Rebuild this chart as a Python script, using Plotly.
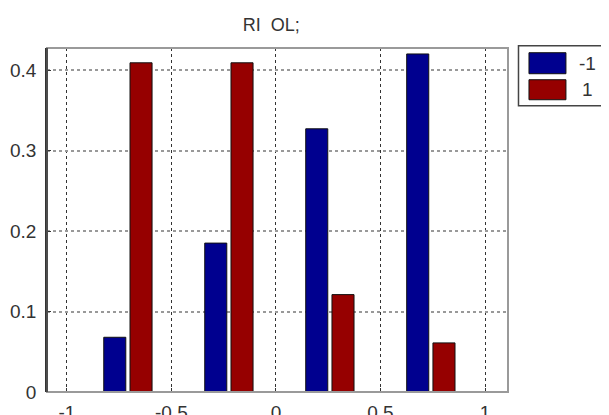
import plotly.graph_objects as go

# Data
x_centers = [-0.708, -0.225, 0.258, 0.741]
series_names = ["-1", "1"]
vals_neg1 = [0.068, 0.185, 0.327, 0.420]
vals_pos1 = [0.409, 0.409, 0.121, 0.061]
x_ticks = [-1, -0.5, 0, 0.5, 1]
x_tick_labels = ["-1", "-0.5", "0", "0.5", "1"]
y_ticks = [0, 0.1, 0.2, 0.3, 0.4]
y_tick_labels = ["0", "0.1", "0.2", "0.3", "0.4"]
title_text = "RI  OL;"

BLUE = "#00008F"
RED = "#960000"
FONT = "Liberation Sans, Arial, sans-serif"
TXT = "#333333"

# The page body has an 8px default margin; size the figure to fill the rest.
OFF = 8
W, H = 609 - OFF, 415 - OFF
# plot area in page pixels: x 46.6..508, y 48.3..392
ml, mr, mt, mb = 46.6 - OFF, 609 - 508, 48.3 - OFF, 415 - 392

fig = go.Figure()
fig.add_trace(go.Bar(x=x_centers, y=vals_neg1, name=series_names[0],
                     marker=dict(color=BLUE, line=dict(color="#111", width=1)),
                     showlegend=False))
fig.add_trace(go.Bar(x=x_centers, y=vals_pos1, name=series_names[1],
                     marker=dict(color=RED, line=dict(color="#111", width=1)),
                     showlegend=False))

fig.update_layout(
    width=W, height=H,
    margin=dict(l=ml, r=mr, t=mt, b=mb, pad=0, autoexpand=False),
    paper_bgcolor="white", plot_bgcolor="white",
    barmode="group", bargap=0.48, bargroupgap=0.16,
    font=dict(family=FONT, size=19, color=TXT),
    title=dict(text=title_text, x=(271 - 46.6) / (508 - 46.6), xref="paper",
               xanchor="center", y=1 - (24.5 - OFF) / H, yanchor="middle",
               font=dict(size=18, color=TXT)),
    xaxis=dict(range=[-1.095, 1.11], tickmode="array", tickvals=x_ticks,
               ticktext=x_tick_labels, showgrid=True, gridcolor="#333",
               griddash="dot", gridwidth=1, zeroline=False, showline=False,
               ticks="inside", ticklen=4, tickcolor="#333",
               ticklabelstandoff=7, automargin=False),
    yaxis=dict(range=[0, 0.4274], tickmode="array", tickvals=y_ticks,
               ticktext=y_tick_labels, showgrid=True, gridcolor="#999",
               griddash="dot", gridwidth=1.5, zeroline=False, showline=True,
               linecolor="#333", linewidth=1.5, ticks="inside", ticklen=4,
               tickcolor="#333", ticklabelstandoff=5, automargin=False),
)

# axes box (gray) top/right/bottom, dark left
fig.add_shape(type="rect", xref="paper", yref="paper", x0=0, y0=0, x1=1, y1=1,
              line=dict(color="#9a9a9a", width=2), layer="above")
fig.add_shape(type="line", xref="paper", yref="paper", x0=0, y0=0, x1=0, y1=1,
              line=dict(color="#333", width=1.5), layer="above")

# custom legend, positions given in page pixels
pw = 508 - 46.6
ph = 392 - 48.3
def px(xp):
    return (xp - 46.6) / pw
def py(yp):
    return 1 - (yp - 48.3) / ph

fig.add_shape(type="rect", xref="paper", yref="paper",
              x0=px(518.5), x1=px(615), y0=py(46), y1=py(106),
              line=dict(color="#444", width=1.5), fillcolor="white")
fig.add_shape(type="rect", xref="paper", yref="paper",
              x0=px(529), x1=px(566), y0=py(53), y1=py(74),
              line=dict(color="#111", width=1), fillcolor=BLUE)
fig.add_shape(type="rect", xref="paper", yref="paper",
              x0=px(529), x1=px(566), y0=py(80), y1=py(100),
              line=dict(color="#111", width=1), fillcolor=RED)
fig.add_annotation(xref="paper", yref="paper", x=px(577), y=py(63.5),
                   text=series_names[0], showarrow=False, xanchor="left",
                   yanchor="middle", font=dict(size=19, color=TXT))
fig.add_annotation(xref="paper", yref="paper", x=px(580), y=py(90),
                   text=series_names[1], showarrow=False, xanchor="left",
                   yanchor="middle", font=dict(size=19, color=TXT))

fig.write_html("out.html")
